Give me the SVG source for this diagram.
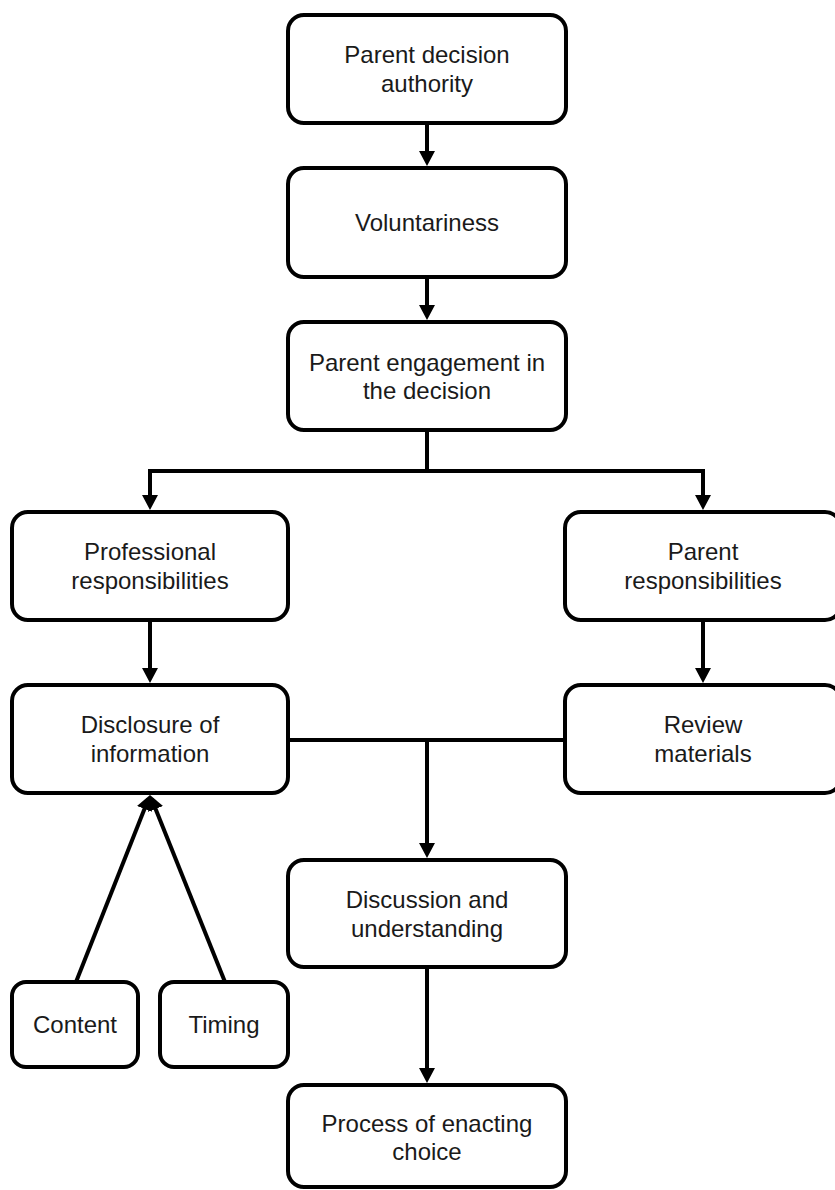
<svg xmlns="http://www.w3.org/2000/svg" width="835" height="1190" viewBox="0 0 835 1190">
<style>
.box{fill:#ffffff;stroke:#000000;stroke-width:4}
.lbl{font-family:"Liberation Sans",Arial,sans-serif;font-size:24px;fill:#1a1a1a;text-anchor:middle}
.conn{fill:none;stroke:#000000;stroke-width:4;stroke-linejoin:miter}
</style>
<defs>
<marker id="arr" viewBox="0 0 15 16" markerWidth="15" markerHeight="16" refX="11" refY="8" orient="auto" markerUnits="userSpaceOnUse">
<path d="M0,0 L15,8 L0,16 z" fill="#000000"/>
</marker>
</defs>
<rect width="835" height="1190" fill="#ffffff"/>
<g id="connectors">
<path class="conn" d="M427,123 V162" marker-end="url(#arr)"/>
<path class="conn" d="M427,277 V316" marker-end="url(#arr)"/>
<path class="conn" d="M427,430 V471 H150 V506" marker-end="url(#arr)"/>
<path class="conn" d="M427,471 H703 V506" marker-end="url(#arr)"/>
<path class="conn" d="M150,620 V679" marker-end="url(#arr)"/>
<path class="conn" d="M703,620 V679" marker-end="url(#arr)"/>
<path class="conn" d="M288,740 H565"/>
<path class="conn" d="M427,740 V854" marker-end="url(#arr)"/>
<path class="conn" d="M427,967 V1079" marker-end="url(#arr)"/>
<path class="conn" d="M76,982 L148.5,798.7" marker-end="url(#arr)"/>
<path class="conn" d="M225,982 L151.5,798.7" marker-end="url(#arr)"/>
</g>
<g id="n1"><rect class="box" x="288" y="15" width="278" height="108" rx="16"/><text class="lbl" x="427" y="63">Parent decision</text><text class="lbl" x="427" y="92">authority</text></g>
<g id="n2"><rect class="box" x="288" y="168" width="278" height="109" rx="16"/><text class="lbl" x="427" y="231">Voluntariness</text></g>
<g id="n3"><rect class="box" x="288" y="322" width="278" height="108" rx="16"/><text class="lbl" x="427" y="371">Parent engagement in</text><text class="lbl" x="427" y="399">the decision</text></g>
<g id="n4"><rect class="box" x="12" y="512" width="276" height="108" rx="16"/><text class="lbl" x="150" y="560">Professional</text><text class="lbl" x="150" y="589">responsibilities</text></g>
<g id="n5"><rect class="box" x="565" y="512" width="276" height="108" rx="16"/><text class="lbl" x="703" y="560">Parent</text><text class="lbl" x="703" y="589">responsibilities</text></g>
<g id="n6"><rect class="box" x="12" y="685" width="276" height="108" rx="16"/><text class="lbl" x="150" y="733">Disclosure of</text><text class="lbl" x="150" y="762">information</text></g>
<g id="n7"><rect class="box" x="565" y="685" width="276" height="108" rx="16"/><text class="lbl" x="703" y="733">Review</text><text class="lbl" x="703" y="762">materials</text></g>
<g id="n8"><rect class="box" x="288" y="860" width="278" height="107" rx="16"/><text class="lbl" x="427" y="908">Discussion and</text><text class="lbl" x="427" y="937">understanding</text></g>
<g id="n9"><rect class="box" x="12" y="982" width="126" height="85" rx="14"/><text class="lbl" x="75" y="1033">Content</text></g>
<g id="n10"><rect class="box" x="160" y="982" width="128" height="85" rx="14"/><text class="lbl" x="224" y="1033">Timing</text></g>
<g id="n11"><rect class="box" x="288" y="1085" width="278" height="102" rx="16"/><text class="lbl" x="427" y="1132">Process of enacting</text><text class="lbl" x="427" y="1160">choice</text></g>
</svg>
